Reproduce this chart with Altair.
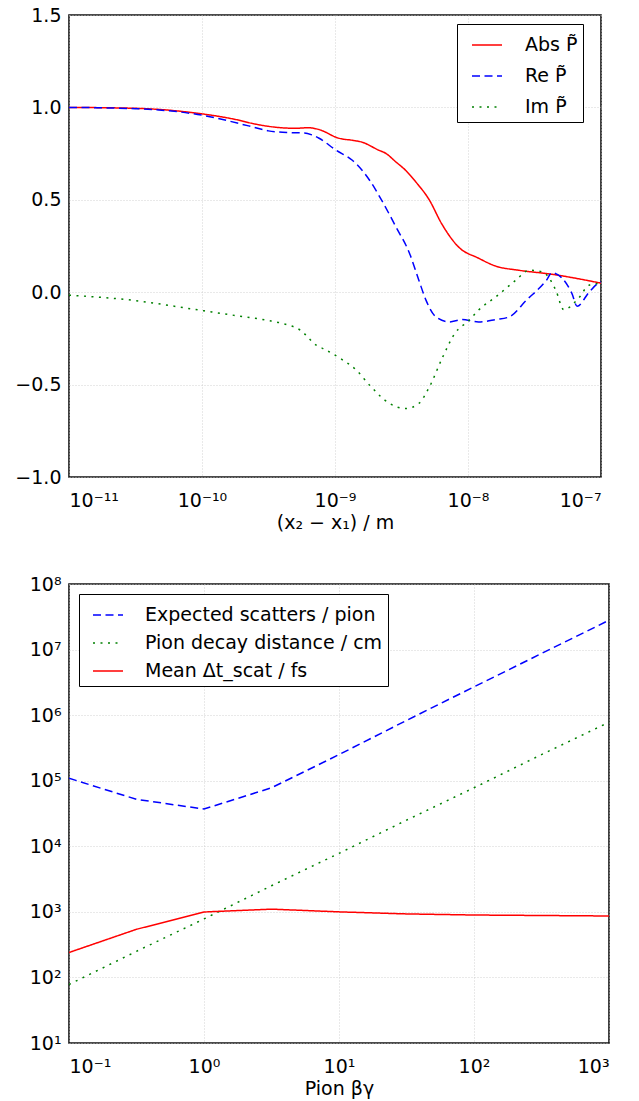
import altair as alt
import pandas as pd

FONT = "DejaVu Sans"
FS = 19

# ---------- upper panel: normalised correlator vs separation ----------
top_series = ["Abs P̃", "Re P̃", "Im P̃"]
top_colors = ["#ff0000", "#0000ff", "#008000"]

abs_sep = [1e-11, 3.16e-11, 1e-10, 1.78e-10, 2.51e-10, 3.55e-10, 5.01e-10, 6.31e-10,
           7.59e-10, 1.07e-9, 1.35e-9, 1.58e-9, 2.14e-9, 2.40e-9, 2.88e-9, 3.39e-9,
           4.07e-9, 5.13e-9, 6.31e-9, 8.51e-9, 1.20e-8, 1.62e-8, 2.40e-8, 4.27e-8, 1e-7]
abs_val = [1.000, 0.995, 0.965, 0.935, 0.910, 0.893, 0.887, 0.890,
           0.880, 0.833, 0.822, 0.813, 0.768, 0.752, 0.704, 0.660,
           0.595, 0.498, 0.373, 0.244, 0.184, 0.141, 0.119, 0.097, 0.049]

re_sep = [1e-11, 3.16e-11, 1e-10, 2.24e-10, 3.16e-10, 4.47e-10, 5.89e-10, 6.76e-10,
          7.59e-10, 1.02e-9, 1.35e-9, 1.48e-9, 1.82e-9, 2.24e-9, 2.88e-9, 3.63e-9,
          4.27e-9, 4.83e-9, 5.75e-9, 7.24e-9, 9.02e-9, 1.20e-8, 1.62e-8, 2.04e-8,
          2.75e-8, 3.89e-8, 4.27e-8, 6.03e-8, 6.61e-8, 8.13e-8, 9.55e-8, 1e-7]
re_val = [1.000, 0.993, 0.958, 0.900, 0.873, 0.864, 0.862, 0.850,
          0.833, 0.768, 0.714, 0.687, 0.606, 0.498, 0.352, 0.211,
          0.065, -0.043, -0.134, -0.161, -0.148, -0.161, -0.148, -0.134,
          -0.043, 0.065, 0.105, -0.005, -0.076, 0.000, 0.049, 0.055]

im_sep = [1e-11, 2.95e-11, 9.55e-11, 1.70e-10, 3.09e-10, 4.07e-10, 5.50e-10, 7.24e-10,
          8.13e-10, 1.10e-9, 1.45e-9, 1.82e-9, 2.57e-9, 3.39e-9, 4.27e-9, 5.13e-9,
          6.46e-9, 7.94e-9, 1.02e-8, 1.20e-8, 1.62e-8, 2.29e-8, 2.88e-8, 3.63e-8,
          4.57e-8, 5.25e-8, 6.76e-8, 8.13e-8, 9.55e-8]
im_val = [-0.016, -0.043, -0.097, -0.124, -0.152, -0.170, -0.206, -0.287,
          -0.305, -0.359, -0.422, -0.503, -0.602, -0.630, -0.602, -0.512,
          -0.350, -0.224, -0.152, -0.097, -0.025, 0.065, 0.119, 0.110,
          0.011, -0.094, -0.034, 0.038, 0.047]

top_x_ticks = [1e-11, 1e-10, 1e-9, 1e-8, 1e-7]
top_x_labels = ["10⁻¹¹", "10⁻¹⁰", "10⁻⁹", "10⁻⁸", "10⁻⁷"]
top_y_ticks = [-1.0, -0.5, 0.0, 0.5, 1.0, 1.5]

# ---------- lower panel: pion quantities vs beta*gamma ----------
bot_series = ["Expected scatters / pion", "Pion decay distance / cm", "Mean Δt_scat / fs"]
bot_colors = ["#0000ff", "#008000", "#ff0000"]

beta_gamma = [0.1, 0.316, 1.0, 3.16, 10.0, 31.6, 100.0, 316.0, 1000.0]
scatters = [1.09e5, 5.2e4, 3.7e4, 7.8e4, 2.5e5, 8.3e5, 2.7e6, 8.7e6, 2.8e7]
decay_cm = [78, 250, 780, 2500, 7800, 25000, 78000, 250000, 780000]
mean_dt = [240, 542, 995, 1100, 1000, 930, 895, 880, 865]

bot_x_ticks = [0.1, 1, 10, 100, 1000]
bot_x_labels = ["10⁻¹", "10⁰", "10¹", "10²", "10³"]
bot_y_ticks = [1e1, 1e2, 1e3, 1e4, 1e5, 1e6, 1e7, 1e8]
bot_y_labels = ["10¹", "10²", "10³", "10⁴", "10⁵", "10⁶", "10⁷", "10⁸"]

SOLID, DASHED, DOTTED = [1, 0], [8, 4.5], [2, 5.5]


def power_label_expr(labels, first_exp):
    items = ",".join(f"'{s}'" for s in labels)
    return f"[{items}][round(log(datum.value) / LN10) - ({first_exp})]"


def frame(xs, ys, name, xcol, ycol):
    return pd.DataFrame({xcol: xs, ycol: ys, "series": name})


top_df = pd.concat([
    frame(abs_sep, abs_val, top_series[0], "sep", "val"),
    frame(re_sep, re_val, top_series[1], "sep", "val"),
    frame(im_sep, im_val, top_series[2], "sep", "val"),
], ignore_index=True)

bot_df = pd.concat([
    frame(beta_gamma, scatters, bot_series[0], "bg", "amount"),
    frame(beta_gamma, decay_cm, bot_series[1], "bg", "amount"),
    frame(beta_gamma, mean_dt, bot_series[2], "bg", "amount"),
], ignore_index=True)


def legend(x, y, sym_offset, label_offset, row_pad):
    return alt.Legend(
        title=None, orient="none", legendX=x, legendY=y,
        symbolType="stroke", symbolSize=900, symbolStrokeWidth=1.5,
        symbolOffset=sym_offset, labelOffset=label_offset,
        labelFont=FONT, labelFontSize=FS, labelColor="black", labelLimit=400,
        strokeColor="black", fillColor="white", padding=5, rowPadding=row_pad,
    )


top_legend = legend(388, 9, 9, 22, 5)
top = alt.Chart(top_df).mark_line(
    strokeWidth=1.5, strokeCap="butt", interpolate="monotone", clip=True
).encode(
    x=alt.X("sep:Q",
            scale=alt.Scale(type="log", domain=[1e-11, 1e-7], nice=False),
            axis=alt.Axis(values=top_x_ticks,
                          labelExpr=power_label_expr(top_x_labels, -11),
                          title="(x₂ − x₁) / m")),
    y=alt.Y("val:Q",
            scale=alt.Scale(domain=[-1.0, 1.5], nice=False, zero=False),
            axis=alt.Axis(values=top_y_ticks, format=".1f", title=None)),
    color=alt.Color("series:N", scale=alt.Scale(domain=top_series, range=top_colors),
                    legend=top_legend),
    strokeDash=alt.StrokeDash("series:N",
                              scale=alt.Scale(domain=top_series, range=[SOLID, DASHED, DOTTED]),
                              legend=top_legend),
).properties(width=532, height=462)

bot_legend = legend(10, 10, 8, 21, 2)
bottom = alt.Chart(bot_df).mark_line(
    strokeWidth=1.5, strokeCap="butt", clip=True
).encode(
    x=alt.X("bg:Q",
            scale=alt.Scale(type="log", domain=[0.1, 1000], nice=False),
            axis=alt.Axis(values=bot_x_ticks,
                          labelExpr=power_label_expr(bot_x_labels, -1),
                          title="Pion βγ")),
    y=alt.Y("amount:Q",
            scale=alt.Scale(type="log", domain=[10, 1e8], nice=False),
            axis=alt.Axis(values=bot_y_ticks,
                          labelExpr=power_label_expr(bot_y_labels, 1),
                          title=None)),
    color=alt.Color("series:N", scale=alt.Scale(domain=bot_series, range=bot_colors),
                    legend=bot_legend),
    strokeDash=alt.StrokeDash("series:N",
                              scale=alt.Scale(domain=bot_series, range=[DASHED, DOTTED, SOLID]),
                              legend=bot_legend),
).properties(width=540, height=459)

chart = alt.vconcat(top, bottom, spacing=107, bounds="flush").resolve_scale(
    x="independent", y="independent", color="independent", strokeDash="independent"
).properties(
    padding={"left": 14, "top": 5, "right": 10, "bottom": 5},
    background="white",
).configure_view(
    stroke="#111111", strokeWidth=1.6
).configure_axis(
    labelFont=FONT, labelFontSize=FS, labelColor="black",
    titleFont=FONT, titleFontSize=FS, titleColor="black", titleFontWeight="normal",
    domain=False, ticks=False, labelPadding=14,
    grid=True, gridColor="#c8c8c8", gridDash=[1, 2], gridWidth=0.8,
    titlePadding=3,
).configure_axisY(
    labelPadding=8
)

chart.save("out.html", embed_options={"renderer": "svg", "actions": False})
